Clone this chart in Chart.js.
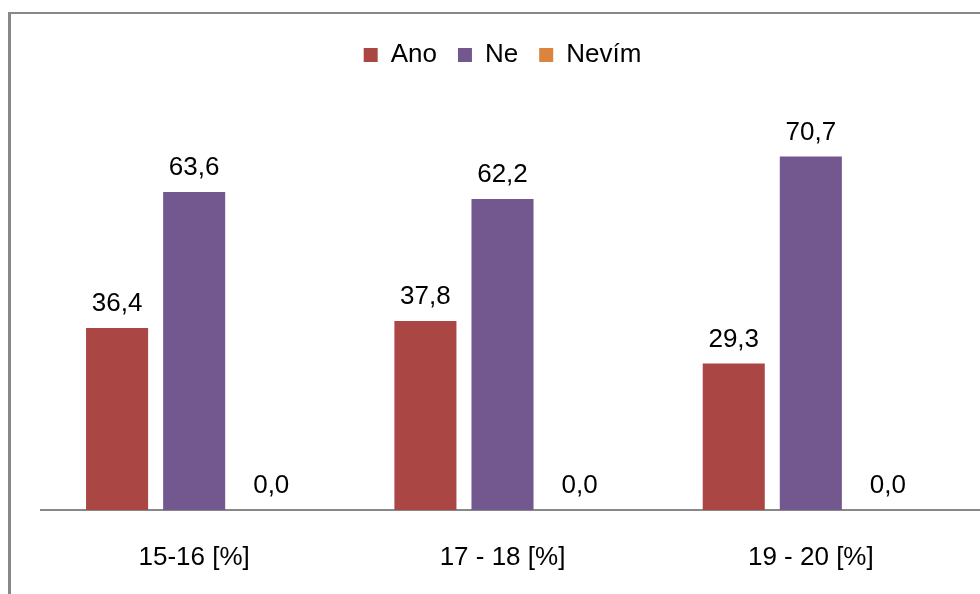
<!DOCTYPE html>
<html>
<head>
<meta charset="utf-8">
<script src="https://cdn.jsdelivr.net/npm/chart.js@4/dist/chart.umd.min.js"></script>
<style>
  body { margin: 0; background: #fff; overflow: hidden; }
  #wrap { position: relative; width: 980px; height: 594px; }
  #frame {
    position: absolute; left: 8px; top: 12px; width: 1000px; height: 620px;
    border-left: 3px solid #888; border-top: 2px solid #888;
  }
  canvas { position: relative; }
</style>
</head>
<body>
<div id="wrap">
  <div id="frame"></div>
  <canvas id="age-chart"></canvas>
</div>
<script>
// answers by age group

const ageGroups = ['15-16 [%]', '17 - 18 [%]', '19 - 20 [%]'];
const anoValues = [36.4, 37.8, 29.3];
const neValues = [63.6, 62.2, 70.7];
const nevimValues = [0.0, 0.0, 0.0];

const labelFont = '"Liberation Sans", Arial, sans-serif';

// value above every bar, decimal comma
const valueLabels = {
    id: 'valueLabels',
    afterDatasetsDraw(chart) {
        const ctx = chart.ctx;
        ctx.save();
        ctx.font = '26px ' + labelFont;
        ctx.fillStyle = '#000';
        ctx.textAlign = 'center';
        ctx.textBaseline = 'alphabetic';
        chart.data.datasets.forEach((ds, di) => {
            chart.getDatasetMeta(di).data.forEach((bar, i) => {
                ctx.fillText(ds.data[i].toFixed(1).replace('.', ','), bar.x, bar.y - 17);
            });
        });
        ctx.restore();
    }
};

// category axis line, runs out to the right edge
const baseLine = {
    id: 'baseLine',
    beforeDatasetsDraw(chart) {
        const ctx = chart.ctx;
        const y = chart.scales.y.getPixelForValue(0);
        ctx.save();
        ctx.strokeStyle = '#888';
        ctx.lineWidth = 2;
        ctx.beginPath();
        ctx.moveTo(chart.chartArea.left, y);
        ctx.lineTo(chart.width, y);
        ctx.stroke();
        ctx.restore();
    }
};

// extra room under the legend
const legendSpacer = {
    id: 'legendSpacer',
    beforeInit(chart) {
        const fit = chart.legend.fit;
        chart.legend.fit = function () {
            fit.call(this);
            this.height += 32;
        };
    }
};

const barData = {
    labels: ageGroups,
    datasets: [{
        label: 'Ano',
        data: anoValues,
        backgroundColor: '#AA4644'
    }, {
        label: 'Ne',
        data: neValues,
        backgroundColor: '#72588F'
    }, {
        label: 'Nevím',
        data: nevimValues,
        backgroundColor: '#DB843D'
    }]
};

const barConfig = {
    type: 'bar',
    data: barData,
    options: {
        responsive: true,
        maintainAspectRatio: false,
        animation: false,
        categoryPercentage: 0.75,
        barPercentage: 0.805,
        layout: {
            padding: { left: 40, right: 15, top: 21, bottom: 0 }
        },
        plugins: {
            legend: {
                position: 'top',
                labels: {
                    boxWidth: 14,
                    boxHeight: 14,
                    padding: 21,
                    color: '#000',
                    font: { family: labelFont, size: 26 }
                }
            },
            tooltip: { enabled: false }
        },
        scales: {
            x: {
                grid: { display: false, drawTicks: false },
                border: { display: false },
                ticks: {
                    padding: 32,
                    color: '#000',
                    font: { family: labelFont, size: 26 }
                },
                afterFit(scale) {
                    scale.height = 84;
                }
            },
            y: {
                display: false,
                min: 0,
                max: 80
            }
        }
    },
    plugins: [valueLabels, baseLine, legendSpacer]
};

var ageChart = new Chart(
    document.getElementById('age-chart'),
    barConfig
);
</script>
</body>
</html>
